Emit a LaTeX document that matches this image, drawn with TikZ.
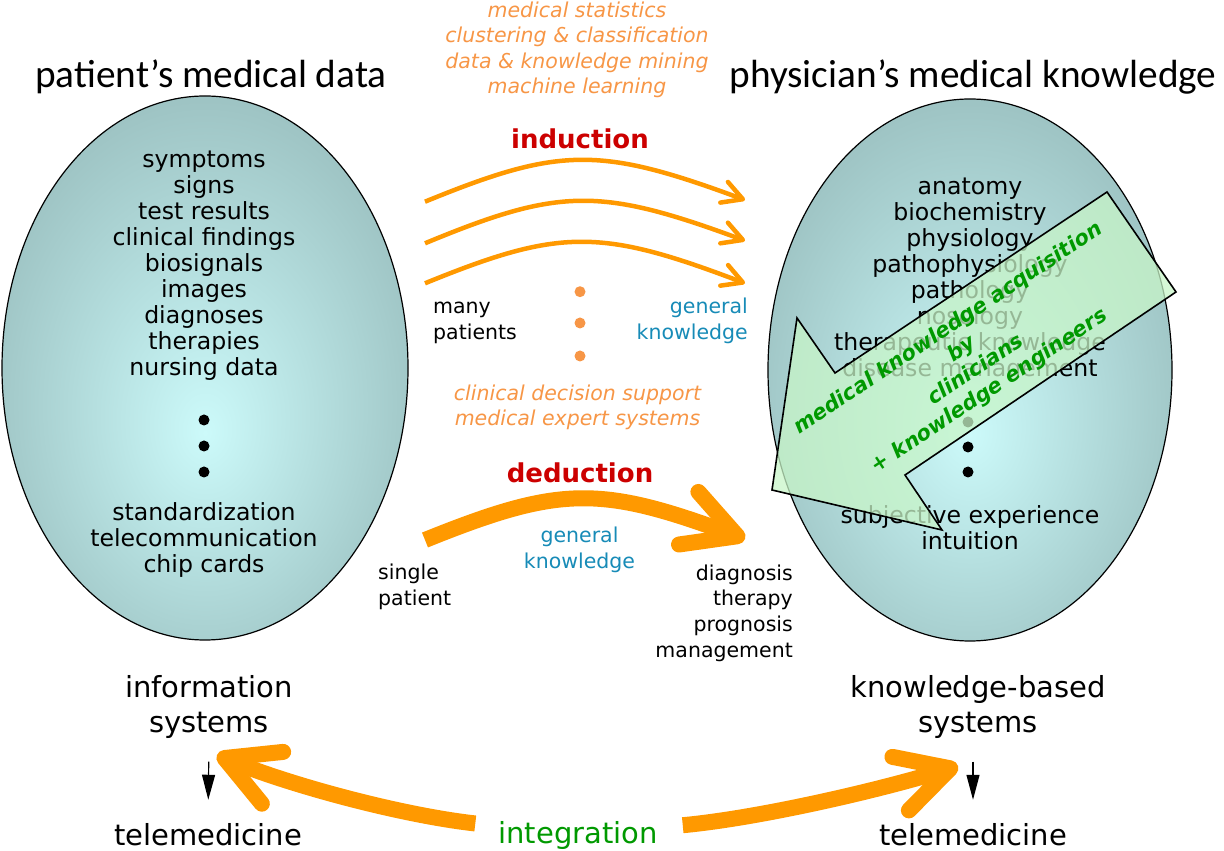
\documentclass[tikz,border=0pt]{standalone}
\usepackage{fontspec}
\setmainfont{DejaVu Sans}
\newfontfamily\calibfont{Carlito}
\usetikzlibrary{shapes.geometric,arrows.meta}
\definecolor{ovalin}{RGB}{204,250,250}
\definecolor{ovalout}{RGB}{137,171,171}
\definecolor{arroworange}{RGB}{255,153,0}
\definecolor{textorange}{RGB}{247,150,70}
\definecolor{wordred}{RGB}{204,0,0}
\definecolor{knowblue}{RGB}{23,139,183}
\definecolor{integgreen}{RGB}{0,153,0}
\definecolor{acqfill}{RGB}{200,245,200}
\pgfdeclareradialshading{ovalshade}{\pgfpoint{0bp}{-6bp}}{color(0bp)=(ovalin); color(40bp)=(ovalout); color(50bp)=(ovalout)}
\begin{document}
\begin{tikzpicture}[>={Triangle[length=25bp,width=13bp]},line join=bevel,
  every node/.style={inner sep=0bp},
  headtext/.style={font=\calibfont\fontsize{39.3bp}{44bp}\selectfont},
  ovalnode/.style={ellipse,draw,line width=1.2bp,shade,shading=ovalshade},
  listtext/.style={align=center,font=\fontsize{23.6bp}{26bp}\selectfont},
  smalltext/.style={font=\fontsize{20.5bp}{25.7bp}\selectfont},
  methodtext/.style={align=center,text=textorange,font=\itshape\fontsize{20.5bp}{25.3bp}\selectfont},
  ruleword/.style={text=wordred,font=\bfseries\fontsize{26bp}{30bp}\selectfont},
  lowtext/.style={font=\fontsize{29bp}{34.7bp}\selectfont},
  thinarrow/.style={draw=arroworange,line width=4.5bp,-{Straight Barb[length=20bp,width=22bp,round]}},
  bigarrow/.style={draw=arroworange,line width=16bp,-{Straight Barb[length=52bp,width=56bp,round]}},
  acqarrow/.style={fill=acqfill,fill opacity=0.75,draw=black,line width=1.6bp,line join=miter},
  acqtext/.style={align=center,text=integgreen,font=\bfseries\itshape\fontsize{21bp}{25bp}\selectfont},
]
\useasboundingbox (0bp,0bp) rectangle (1224bp,851bp);
%%
\node (node_pdata) at (211.0bp,763.0bp) [headtext,anchor=base] {patient’s medical data};
  \node (node_pknow) at (973.0bp,763.0bp) [headtext,anchor=base] {physician’s medical knowledge};
%
\node (node_loval) at (205.0bp,483.0bp) [ovalnode,minimum width=406bp,minimum height=544bp] {};
  \node (node_roval) at (970.0bp,481.0bp) [ovalnode,minimum width=404bp,minimum height=542bp] {};
  \node (node_ldata) at (204.0bp,585.0bp) [listtext] {symptoms\\signs\\test results\\clinical findings\\biosignals\\images\\diagnoses\\therapies\\nursing data};
  \fill (204.0bp,431.0bp) circle (5.5bp);
  \fill (204.0bp,405.0bp) circle (5.5bp);
  \fill (204.0bp,379.0bp) circle (5.5bp);
  \node (node_lstd) at (204.0bp,311.0bp) [listtext] {standardization\\telecommunication\\chip cards};
  \node (node_rknow) at (970.0bp,571.0bp) [listtext] {anatomy\\biochemistry\\physiology\\pathophysiology\\pathology\\nosology\\therapeutic knowledge\\disease management};
  \fill (968.0bp,429.0bp) circle (5.5bp);
  \fill (968.0bp,404.0bp) circle (5.5bp);
  \fill (968.0bp,379.0bp) circle (5.5bp);
  \node (node_rexp) at (970.0bp,323.0bp) [listtext] {subjective experience\\intuition};
%
\node (node_methods) at (577.0bp,801.0bp) [methodtext] {medical statistics\\clustering \& classification\\data \& knowledge mining\\machine learning};
  \node (node_induct) at (580.0bp,712.0bp) [ruleword] {induction};
  \coordinate (ind_1s) at (425.0bp,649.3bp);
  \coordinate (ind_1e) at (745.0bp,651.0bp);
  \coordinate (ind_2s) at (425.0bp,607.7bp);
  \coordinate (ind_2e) at (745.0bp,610.3bp);
  \coordinate (ind_3s) at (425.0bp,567.7bp);
  \coordinate (ind_3e) at (745.0bp,567.7bp);
  \draw [thinarrow] (ind_1s) ..controls (560.0bp,704.6bp) and (600.0bp,704.6bp)  .. (ind_1e);
  \draw [thinarrow] (ind_2s) ..controls (560.0bp,663.7bp) and (600.0bp,663.7bp)  .. (ind_2e);
  \draw [thinarrow] (ind_3s) ..controls (560.0bp,622.8bp) and (600.0bp,622.8bp)  .. (ind_3e);
  \fill [textorange] (580.0bp,559.3bp) circle (5.5bp);
  \fill [textorange] (580.0bp,528.0bp) circle (5.5bp);
  \fill [textorange] (580.0bp,495.0bp) circle (5.5bp);
  \node (node_many) at (433.0bp,528.0bp) [smalltext,anchor=west,align=left] {many\\patients};
  \node (node_gk1) at (748.0bp,530.0bp) [smalltext,anchor=east,align=right,text=knowblue] {general\\knowledge};
  \node (node_cds) at (577.5bp,444.0bp) [methodtext] {clinical decision support\\medical expert systems};
%
\node (node_deduct) at (580.0bp,378.0bp) [ruleword] {deduction};
  \coordinate (ded_s) at (425.0bp,311.0bp);
  \coordinate (ded_e) at (745.0bp,312.0bp);
  \draw [bigarrow] (ded_s) ..controls (560.0bp,365.5bp) and (600.0bp,365.5bp)  .. (ded_e);
  \node (node_gk2) at (579.5bp,301.0bp) [smalltext,align=center,text=knowblue] {general\\knowledge};
  \node (node_single) at (378.0bp,264.0bp) [smalltext,anchor=west,align=left] {single\\patient};
  \node (node_diag) at (793.0bp,238.0bp) [smalltext,anchor=east,align=right] {diagnosis\\therapy\\prognosis\\management};
%
\node (node_info) at (209.0bp,144.0bp) [lowtext,align=center] {information\\systems};
  \node (node_kbs) at (978.0bp,144.0bp) [lowtext,align=center] {knowledge-based\\systems};
  \node (node_tele1) at (208.0bp,6.0bp) [lowtext,anchor=base] {telemedicine};
  \node (node_tele2) at (973.0bp,6.0bp) [lowtext,anchor=base] {telemedicine};
  \node (node_integ) at (578.0bp,8.0bp) [lowtext,anchor=base,text=integgreen] {integration};
  \draw [black,->,line width=1.2bp,shorten <=23bp,shorten >=23bp] (node_info.south) -- (node_tele1.north);
  \draw [black,->,line width=1.2bp,shorten <=23bp,shorten >=23bp] (node_kbs.south -| node_tele2.north) -- (node_tele2.north);
  \coordinate (integ_l) at (217.0bp,96.0bp);
  \coordinate (integ_r) at (958.0bp,85.0bp);
  \draw [bigarrow,shorten <=23bp] (node_integ) ..controls (400.0bp,36.0bp) and (290.0bp,66.0bp)  .. (integ_l);
  \draw [bigarrow,shorten <=25bp] (node_integ) ..controls (760.0bp,33.0bp) and (880.0bp,61.0bp)  .. (integ_r);
%
\draw [acqarrow] (1107.0bp,659.0bp) -- (1176.0bp,559.0bp) -- (905.0bp,376.0bp) -- (942.0bp,321.0bp) -- (772.0bp,361.0bp) -- (797.0bp,533.0bp) -- (835.0bp,478.0bp) -- cycle;
  \node (node_acq) at (969.0bp,491.0bp) [acqtext,rotate=33.6] {medical knowledge acquisition\\by\\clinicians\\+ knowledge engineers};
%
\end{tikzpicture}
\end{document}
